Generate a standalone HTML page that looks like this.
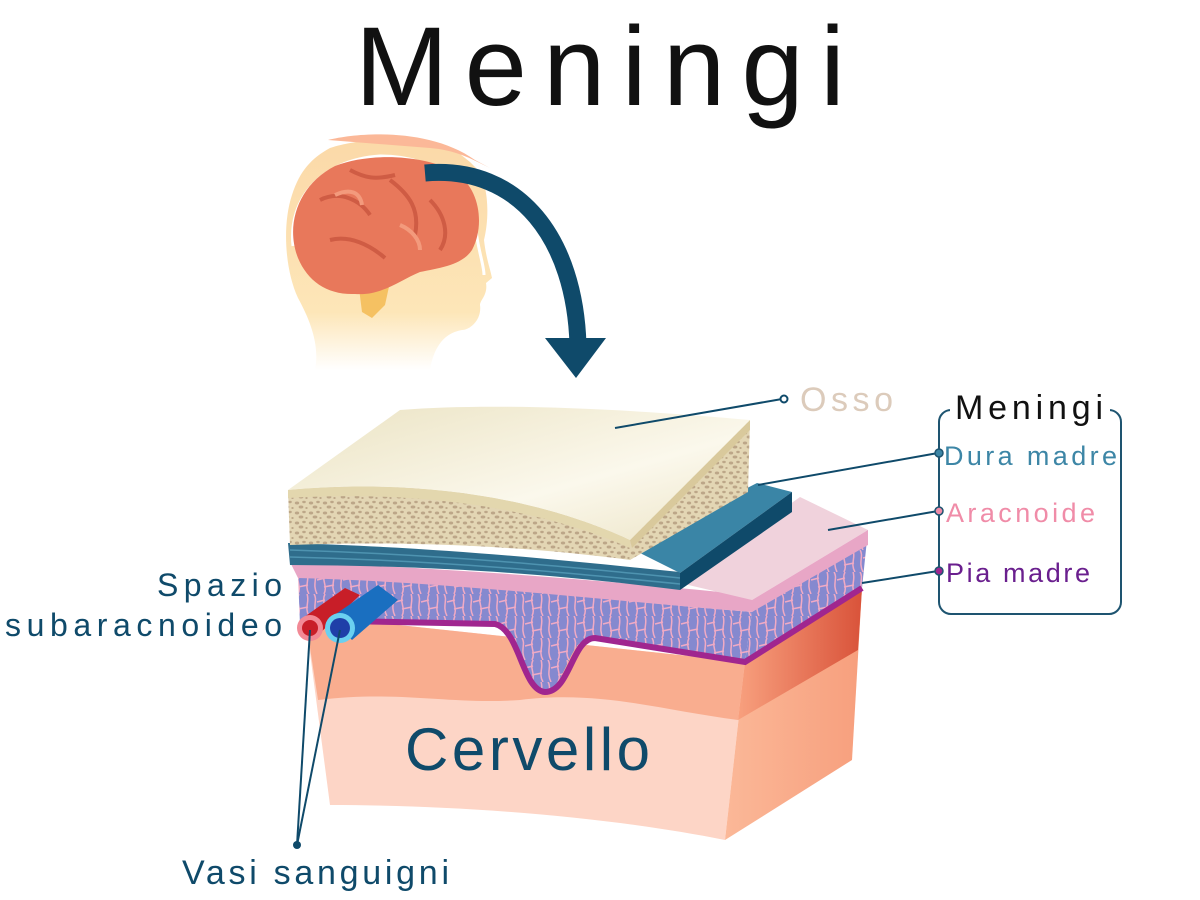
<!DOCTYPE html>
<html><head><meta charset="utf-8"><style>
html,body{margin:0;padding:0;background:#fff;}
svg{display:block}
text{font-family:"Liberation Sans",sans-serif}
</style></head><body>
<svg width="1200" height="900" viewBox="0 0 1200 900" xmlns="http://www.w3.org/2000/svg">
<defs>
<linearGradient id="skin" x1="0" y1="0" x2="0" y2="1">
<stop offset="0" stop-color="#fbd9a8"/><stop offset="0.75" stop-color="#fde6b8"/><stop offset="1" stop-color="#fff"/>
</linearGradient>
<linearGradient id="bonetop" x1="0" y1="0" x2="1" y2="1">
<stop offset="0" stop-color="#ebe3c3"/><stop offset="0.6" stop-color="#fbf8ec"/><stop offset="1" stop-color="#ece4c6"/>
</linearGradient>
<linearGradient id="brainside" x1="0" y1="0" x2="1" y2="0">
<stop offset="0" stop-color="#f8a07e"/><stop offset="1" stop-color="#d9533a"/>
</linearGradient>
<linearGradient id="brainside2" x1="0" y1="0" x2="1" y2="0">
<stop offset="0" stop-color="#fbb898"/><stop offset="1" stop-color="#f79f7d"/>
</linearGradient>
<pattern id="spongy" width="14" height="10" patternUnits="userSpaceOnUse">
<rect width="14" height="10" fill="#e3d6b4"/>
<ellipse cx="3" cy="3" rx="2.2" ry="1.5" fill="#bca688"/>
<ellipse cx="10" cy="2" rx="1.8" ry="1.2" fill="#bca688"/>
<ellipse cx="7" cy="7" rx="2.4" ry="1.5" fill="#bca688"/>
<ellipse cx="12.5" cy="8" rx="1.2" ry="1" fill="#bca688"/>
</pattern>
<pattern id="web" width="26" height="22" patternUnits="userSpaceOnUse">
<rect width="26" height="22" fill="#8589cf"/>
<path d="M2 0 C6 6,0 12,5 22 M13 0 C9 8,16 14,12 22 M21 0 C24 7,18 14,23 22 M5 8 L13 6 M12 15 L22 13" stroke="#f1aac4" stroke-width="1.5" fill="none"/>
</pattern>
</defs>

<!-- Title -->
<text x="355" y="105" font-size="112" fill="#111" textLength="490" lengthAdjust="spacing">Meningi</text>

<!-- Head -->
<path d="M330 148 C360 138 420 134 455 150 L470 162 L478 170 C488 185 490 215 484 240 C486 258 490 268 492 278 L486 283 C488 295 480 300 480 305 C482 320 470 330 462 330 C450 332 435 340 430 370 L315 370 C320 345 310 320 298 298 C285 270 282 225 292 195 C300 170 312 158 330 148 Z" fill="url(#skin)"/>
<path d="M328 140 C360 132 430 128 475 160 L490 168 C470 158 455 150 430 148 Z" fill="#fbb898"/>
<path d="M293 246 C288 200 320 160 380 156 C440 156 470 190 476 230 C478 250 484 265 484 275" stroke="#fff" stroke-width="3" fill="none"/>
<path d="M358 280 L390 282 L385 305 L372 318 L362 312 Z" fill="#f5c162"/>
<path d="M298 258 C285 225 298 185 335 166 C370 152 425 155 455 172 C482 190 484 228 472 250 C462 265 440 268 420 272 C400 280 382 296 355 294 C328 295 308 282 298 258 Z" fill="#e8785b"/>
<path d="M320 200 C340 190 360 200 370 215 M390 180 C410 195 420 210 415 235 M330 240 C350 235 370 245 385 258 M430 200 C445 215 450 235 440 250 M350 170 C365 178 375 180 395 175" stroke="#cf5c44" stroke-width="4" fill="none"/>
<path d="M335 195 C350 188 360 192 362 205 M400 225 C412 230 420 240 420 250" stroke="#f39a7c" stroke-width="4" fill="none"/>

<!-- Arrow -->
<path d="M425 173 C520 165 575 240 578 345" stroke="#0f4a6a" stroke-width="17" fill="none"/>
<polygon points="545,338 606,338 576,378" fill="#0f4a6a"/>

<!-- Brain block -->
<path d="M305 615 L745 662 L725 840 C600 815 450 805 330 805 Z" fill="#fdd5c6"/>
<path d="M305 615 L745 662 L738 720 C660 710 600 690 520 700 C450 705 400 690 318 700 Z" fill="#f9ad8f"/>
<path d="M745 662 L862 588 L852 760 L725 840 Z" fill="url(#brainside2)"/>
<path d="M745 662 L862 588 L858 650 L738 720 Z" fill="url(#brainside)"/>

<!-- subarachnoid -->
<path d="M298 575 C450 580 600 600 752 612 L745 662 L590 640 C570 635 565 690 545 692 C525 692 520 640 500 625 L340 620 L300 625 Z" fill="url(#web)"/>
<path d="M752 612 L868 530 L862 588 L745 662 Z" fill="url(#web)"/>
<path d="M345 621 L495 624 C520 630 522 690 545 692 C570 692 572 638 595 638 L745 662 L862 588" stroke="#a0268f" stroke-width="6" fill="none"/>

<!-- arachnoid -->
<path d="M290 562 C450 568 600 580 752 595 L752 612 C600 600 450 582 298 578 Z" fill="#e8a6c6"/>
<path d="M680 583 L800 497 L868 530 L752 600 Z" fill="#f0d2dc"/>
<path d="M752 600 L868 530 L868 545 L752 612 Z" fill="#e8a6c6"/>

<!-- dura -->
<path d="M288 543 C450 548 560 560 680 572 L680 590 C560 575 450 566 290 565 Z" fill="#2f6d8c"/>
<path d="M290 550 C450 555 560 566 680 578 M290 557 C450 561 560 572 680 584" stroke="#4e93b0" stroke-width="1.5" fill="none"/>
<path d="M630 548 L757 483 L792 492 L680 573 Z" fill="#3a85a6"/>
<path d="M680 573 L792 492 L792 512 L680 590 Z" fill="#0f4a6a"/>

<!-- bone -->
<path d="M288 490 C420 478 540 498 630 540 L630 560 C540 548 420 540 290 545 Z" fill="url(#spongy)"/>
<path d="M288 490 C420 478 540 498 630 540 L630 548 C540 508 420 490 288 498 Z" fill="#e3d7ae"/>
<path d="M630 540 L750 420 L748 492 L630 560 Z" fill="url(#spongy)"/>
<path d="M630 540 L750 420 L750 430 L632 548 Z" fill="#d9c99c"/>
<path d="M288 490 L400 410 C500 402 640 410 750 420 L630 540 C540 498 420 478 288 490 Z" fill="url(#bonetop)"/>

<!-- vessels -->
<path d="M300 620 L345 588 L360 595 L318 635 Z" fill="#c81e28"/>
<circle cx="310" cy="628" r="13" fill="#f28a96"/>
<circle cx="310" cy="628" r="8" fill="#c81e28"/>
<path d="M330 618 L378 585 L398 600 L352 640 Z" fill="#1a6fc0"/>
<circle cx="340" cy="628" r="15" fill="#6ad0f0"/>
<circle cx="340" cy="628" r="10" fill="#1f3fa8"/>

<!-- connectors -->
<g stroke="#0f4a6a" stroke-width="2" fill="none">
<line x1="615" y1="428" x2="782" y2="399"/>
<line x1="758" y1="485" x2="938" y2="453"/>
<line x1="828" y1="530" x2="938" y2="511"/>
<line x1="862" y1="583" x2="938" y2="571"/>
<line x1="297" y1="845" x2="310" y2="630"/>
<line x1="297" y1="845" x2="340" y2="630"/>
</g>
<circle cx="784" cy="399" r="3.5" fill="#fff" stroke="#0f4a6a" stroke-width="2"/>
<circle cx="297" cy="845" r="4" fill="#0f4a6a"/>

<!-- bracket box -->
<rect x="939" y="410" width="182" height="204" rx="12" fill="none" stroke="#1e5470" stroke-width="2"/>
<rect x="950" y="395" width="160" height="30" fill="#fff"/>
<circle cx="939" cy="453" r="4" fill="#3d86a6" stroke="#1e5470" stroke-width="1.5"/>
<circle cx="939" cy="511" r="4" fill="#f08ca8" stroke="#1e5470" stroke-width="1.5"/>
<circle cx="939" cy="571" r="4" fill="#a0268f" stroke="#1e5470" stroke-width="1.5"/>

<!-- labels -->
<text x="800" y="411" font-size="34" fill="#dccbbb" textLength="93" lengthAdjust="spacing">Osso</text>
<text x="955" y="419" font-size="34" fill="#111" textLength="148" lengthAdjust="spacing">Meningi</text>
<text x="944" y="465" font-size="27" fill="#3d86a6" textLength="173" lengthAdjust="spacing">Dura madre</text>
<text x="946" y="522" font-size="27" fill="#f08ca8" textLength="149" lengthAdjust="spacing">Aracnoide</text>
<text x="946" y="582" font-size="27" fill="#6a1f8e" textLength="144" lengthAdjust="spacing">Pia madre</text>
<text x="157" y="596" font-size="32" fill="#0f4a6a" textLength="125" lengthAdjust="spacing">Spazio</text>
<text x="5" y="636" font-size="32" fill="#0f4a6a" textLength="277" lengthAdjust="spacing">subaracnoideo</text>
<text x="405" y="770" font-size="60" fill="#0f4a6a" textLength="245" lengthAdjust="spacing">Cervello</text>
<text x="182" y="884" font-size="34" fill="#0f4a6a" textLength="267" lengthAdjust="spacing">Vasi sanguigni</text>
</svg>
</body></html>
